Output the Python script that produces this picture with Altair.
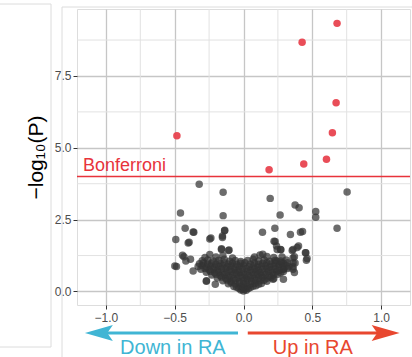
import altair as alt
import pandas as pd

# ---------------- data ----------------
# significant (above Bonferroni) points
sig_x = [0.680, 0.426, 0.673, 0.646, -0.484, 0.603, 0.438, 0.186]
sig_y = [9.33, 8.67, 6.57, 5.52, 5.42, 4.60, 4.44, 4.24]

# non-significant points: scattered ones
ns_x = [-0.322, -0.148, 0.753, 0.194, 0.375, 0.404, 0.266, 0.525, 0.525, -0.458,
        -0.148, 0.680, -0.424, -0.361, -0.366, -0.138, 0.138, 0.228, -0.492, -0.395,
        -0.237, -0.153, -0.153, 0.341, 0.414, 0.429, 0.230, 0.245, -0.160, -0.109,
        0.271, 0.354, 0.390, 0.453, 0.462, -0.487, -0.433, -0.385, -0.402, -0.136,
        -0.245, -0.499, -0.443, -0.419, -0.245, -0.160, -0.105, -0.366, -0.269, -0.205,
        -0.270, 0.222, 0.240, 0.270, 0.360, 0.400, 0.450, 0.457, 0.360, 0.360,
        0.360, 0.290, 0.370, 0.215, 0.240, 0.276, 0.293, 0.360, 0.375, 0.370]
ns_y = [3.73, 3.45, 3.46, 3.24, 3.01, 2.91, 2.66, 2.78, 2.58, 2.73,
        2.64, 2.20, 2.20, 2.06, 2.07, 2.11, 2.06, 2.20, 1.81, 1.71,
        1.86, 1.93, 1.88, 1.98, 2.06, 2.09, 1.74, 1.46, 1.49, 1.43,
        1.45, 1.43, 1.53, 1.35, 1.15, 0.87, 1.21, 1.12, 1.69, 2.13,
        1.83, 0.89, 1.26, 1.06, 1.29, 1.46, 1.44, 0.71, 0.37, 0.25,
        0.36, 1.75, 1.58, 1.46, 1.46, 1.58, 1.35, 1.09, 1.17, 1.00,
        0.86, 0.43, 0.66, 0.43, 1.06, 1.00, 0.77, 0.77, 0.99, 1.21]

# non-significant points: dense V-shaped core
core_x = [0.00, -0.02, 0.02, 0.01, -0.01, 0.035, -0.035,
          -0.07, -0.05, -0.02, 0.00, 0.03, 0.05, 0.07, 0.09,
          -0.11, -0.09, -0.06, -0.03, 0.00, 0.02, 0.05, 0.08, 0.11, 0.13,
          -0.15, -0.12, -0.09, -0.06, -0.03, 0.00, 0.03, 0.06, 0.09, 0.12, 0.15, 0.17,
          -0.19, -0.16, -0.13, -0.10, -0.07, -0.04, -0.01, 0.02, 0.05, 0.08, 0.11, 0.14, 0.17, 0.20, 0.22,
          -0.23, -0.20, -0.17, -0.14, -0.11, -0.08, -0.05, -0.02, 0.01, 0.04, 0.07, 0.10, 0.13, 0.16, 0.19, 0.22, 0.25,
          -0.27, -0.24, -0.21, -0.18, -0.15, -0.12, -0.09, -0.06, -0.03, 0.00, 0.03, 0.06, 0.09, 0.12, 0.15, 0.18, 0.21, 0.24, 0.27, 0.29,
          -0.31, -0.28, -0.25, -0.22, -0.19, -0.16, -0.13, -0.10, -0.07, -0.04, -0.01, 0.02, 0.05, 0.08, 0.11, 0.14, 0.17, 0.20, 0.23, 0.26, 0.29, 0.32,
          -0.33, -0.30, -0.27, -0.24, -0.21, -0.18, -0.15, -0.12, -0.09, -0.06, -0.03, 0.00, 0.04, 0.07, 0.10, 0.13, 0.16, 0.19, 0.22, 0.25, 0.28, 0.31, 0.33,
          -0.32, -0.29, -0.26, -0.23, -0.20, -0.17, -0.14, -0.11, -0.08, -0.05, -0.02, 0.01, 0.05, 0.08, 0.11, 0.14, 0.17, 0.20, 0.23, 0.26, 0.29, 0.32,
          -0.30, -0.26, -0.22, -0.18, -0.14, -0.10, -0.06, -0.02, 0.03, 0.07, 0.11, 0.15, 0.19, 0.23, 0.27, 0.31,
          -0.28, -0.20, -0.15, -0.08, 0.08, 0.12, 0.14, 0.17, 0.22, 0.28]
core_y = [0.02, 0.05, 0.04, 0.09, 0.08, 0.10, 0.11,
          0.17, 0.15, 0.18, 0.16, 0.17, 0.14, 0.18, 0.20,
          0.27, 0.30, 0.26, 0.29, 0.27, 0.30, 0.26, 0.29, 0.25, 0.28,
          0.37, 0.40, 0.36, 0.39, 0.35, 0.38, 0.41, 0.36, 0.40, 0.37, 0.39, 0.36,
          0.47, 0.50, 0.46, 0.49, 0.45, 0.48, 0.50, 0.46, 0.49, 0.45, 0.48, 0.50, 0.46, 0.49, 0.45,
          0.57, 0.60, 0.56, 0.59, 0.55, 0.58, 0.60, 0.56, 0.59, 0.55, 0.58, 0.60, 0.56, 0.59, 0.55, 0.58, 0.60,
          0.67, 0.70, 0.66, 0.69, 0.65, 0.68, 0.70, 0.66, 0.69, 0.65, 0.70, 0.67, 0.69, 0.65, 0.68, 0.70, 0.66, 0.69, 0.65, 0.70,
          0.77, 0.80, 0.76, 0.79, 0.75, 0.78, 0.80, 0.76, 0.79, 0.75, 0.78, 0.80, 0.76, 0.79, 0.75, 0.78, 0.80, 0.76, 0.79, 0.75, 0.78, 0.80,
          0.87, 0.90, 0.86, 0.89, 0.85, 0.88, 0.90, 0.86, 0.89, 0.85, 0.88, 0.90, 0.86, 0.89, 0.85, 0.88, 0.90, 0.86, 0.89, 0.85, 0.88, 0.90, 0.86,
          0.97, 1.00, 0.96, 0.99, 0.95, 0.98, 1.00, 0.96, 0.99, 0.95, 0.98, 1.00, 0.96, 0.99, 0.95, 0.98, 1.00, 0.96, 0.99, 0.95, 0.98, 1.00,
          1.07, 1.10, 1.06, 1.09, 1.12, 1.05, 1.08, 1.04, 1.08, 1.12, 1.06, 1.10, 1.05, 1.09, 1.06, 1.10,
          1.18, 1.20, 1.25, 1.17, 1.20, 1.27, 1.30, 1.22, 1.18, 1.20]

bonferroni = [4.0]
x_ticks = [-1.0, -0.5, 0.0, 0.5, 1.0]
y_ticks = [0.0, 2.5, 5.0, 7.5]
x_minor = [-0.75, -0.25, 0.25, 0.75]
y_minor = [1.25, 3.75, 6.25, 8.75]
x_domain = [-1.21, 1.21]
y_domain = [-0.47, 9.83]

arrow_labels = ["Down in RA", "Up in RA"]
arrow_start = [-0.04, 0.031]
arrow_end = [-1.0, 1.0]
arrow_head = [-1.051, 1.033]
label_x = [-0.513, 0.504]
arrow_colors = ["#40B5D4", "#E8472F"]

RED = "#E8434F"
FONT = "Liberation Sans"

# ---------------- tables ----------------
pts = pd.DataFrame({
    "x": ns_x + core_x + sig_x,
    "y": ns_y + core_y + sig_y,
    "sig": ["no"] * (len(ns_x) + len(core_x)) + ["yes"] * len(sig_x),
})
arrows = pd.DataFrame({"label": arrow_labels, "x0": arrow_start, "x1": arrow_end,
                       "xh": arrow_head, "xl": label_x, "color": arrow_colors})

xs = alt.Scale(domain=x_domain, nice=False, zero=False)
ys = alt.Scale(domain=y_domain, nice=False, zero=False)

x_axis = alt.Axis(values=x_ticks, format=".1f", title=None, grid=True,
                  gridColor="#C6C6C6", gridWidth=1.3, domain=False,
                  tickColor="#333333", tickSize=4, labelColor="#4D4D4D",
                  labelFontSize=12, labelFont=FONT, labelPadding=3)
y_axis = alt.Axis(values=y_ticks, format=".1f", title="−log₁₀(P)", grid=True,
                  gridColor="#C6C6C6", gridWidth=1.3, domain=False,
                  tickColor="#333333", tickSize=4, labelColor="#4D4D4D",
                  labelFontSize=12, labelFont=FONT, labelPadding=2,
                  titleFont=FONT, titleFontSize=21, titleFontWeight="normal",
                  titleColor="#000000", titlePadding=8)

minor_v = alt.Chart(pd.DataFrame({"v": x_minor})).mark_rule(
    color="#E2E2E2", strokeWidth=1).encode(x=alt.X("v:Q", scale=xs))
minor_h = alt.Chart(pd.DataFrame({"v": y_minor})).mark_rule(
    color="#E2E2E2", strokeWidth=1).encode(y=alt.Y("v:Q", scale=ys))

base_pts = alt.Chart(pts).encode(
    x=alt.X("x:Q", scale=xs, axis=x_axis),
    y=alt.Y("y:Q", scale=ys, axis=y_axis),
)
ns_layer = base_pts.transform_filter(alt.datum.sig == "no").mark_circle(
    size=56, color="#333333", opacity=0.72)
sig_layer = base_pts.transform_filter(alt.datum.sig == "yes").mark_circle(
    size=56, color=RED, opacity=0.95)

bonf = alt.Chart(pd.DataFrame({"y": bonferroni})).mark_rule(
    color="#E8333B", strokeWidth=1.5).encode(y=alt.Y("y:Q", scale=ys))
bonf_txt = alt.Chart(pd.DataFrame({"y": bonferroni, "t": ["Bonferroni"]})).mark_text(
    align="left", baseline="alphabetic", dy=-6, fontSize=18, font=FONT, color="#E8333B"
).encode(x=alt.value(6), y=alt.Y("y:Q", scale=ys), text="t:N")

arrow_line = alt.Chart(arrows).mark_rule(strokeWidth=3).encode(
    x=alt.X("x0:Q", scale=xs), x2="x1:Q", y=alt.value(324),
    color=alt.Color("color:N", scale=None))
arrow_tip = alt.Chart(arrows).transform_calculate(
    shp="datum.xh < 0 ? 'M-1,0L1,-0.58L0.6,0L1,0.58Z' : 'M1,0L-1,-0.58L-0.6,0L-1,0.58Z'"
).mark_point(filled=True, opacity=1, size=784, strokeWidth=0).encode(
    x=alt.X("xh:Q", scale=xs), y=alt.value(324),
    shape=alt.Shape("shp:N", scale=None),
    color=alt.Color("color:N", scale=None))
arrow_txt = alt.Chart(arrows).mark_text(
    align="center", baseline="alphabetic", fontSize=20, font=FONT
).encode(x=alt.X("xl:Q", scale=xs), y=alt.value(345), text="label:N",
         color=alt.Color("color:N", scale=None))

# surrounding page frame lines (screenshot context)
frame = pd.DataFrame({
    "x": [-26, -77, -77, -15, -15],
    "x2": [-26, -26, -26, -15, 335],
    "y": [-5, -5, 338, -2, -2],
    "y2": [338, -5, 338, 348, -2],
})
frame_layer = alt.Chart(frame).mark_rule(color="#DCDCDC", strokeWidth=1).encode(
    x=alt.X("x:Q", scale=None), x2="x2:Q",
    y=alt.Y("y:Q", scale=None), y2="y2:Q")

chart = alt.layer(
    minor_v, minor_h, ns_layer, sig_layer, bonf, bonf_txt,
    arrow_line, arrow_tip, arrow_txt, frame_layer
).properties(
    width=333, height=296,
    padding={"left": 77, "top": 9, "right": 2, "bottom": 52},
    autosize=alt.AutoSizeParams(type="none"),
).configure_view(
    stroke="#4D4D4D", strokeWidth=1.6
).configure(background="white")

chart.save("out.html", embed_options={"renderer": "svg", "actions": False})
